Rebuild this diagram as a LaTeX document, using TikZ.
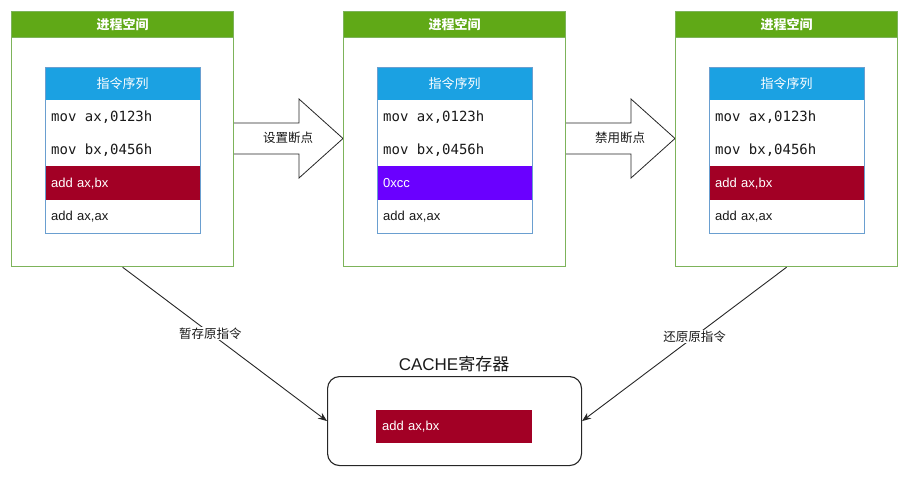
\documentclass[tikz,border=0pt]{standalone}
\usepackage{fontspec}
\setmainfont{Liberation Sans}
\newfontfamily\cjk{Noto Sans CJK SC}
\newfontfamily\monof{DejaVu Sans Mono}
\newcommand{\msp}{\hspace{0.602em}}
\usetikzlibrary{arrows.meta}
\definecolor{hdrgreen}{HTML}{60A917}
\definecolor{bordergreen}{HTML}{7DB35A}
\definecolor{hdrblue}{HTML}{1BA1E2}
\definecolor{listborder}{HTML}{6A9FD0}
\definecolor{redrow}{HTML}{A20025}
\definecolor{purprow}{HTML}{6A00FF}
\tikzset{
  procbox/.style={draw=bordergreen, line width=1.2pt, fill=white, anchor=north west,
    minimum width=222pt, minimum height=255pt, inner sep=0pt},
  prochdr/.style={draw=bordergreen, line width=1.2pt, fill=hdrgreen, anchor=north west,
    minimum width=222pt, minimum height=26pt, inner sep=0pt, text=white,
    font=\cjk\bfseries\fontsize{13}{15}\selectfont},
  listhdr/.style={fill=hdrblue, anchor=north west, minimum width=155pt, minimum height=33pt,
    inner sep=0pt, text=white, font=\cjk\fontsize{13}{15}\selectfont},
  rowbox/.style={anchor=north west, minimum height=33pt, inner xsep=6pt, inner ysep=0pt,
    text width=143pt, align=left},
  monorow/.style={rowbox, font=\monof\fontsize{14}{16}\selectfont, text=black!90},
  sansrow/.style={rowbox, font=\fontsize{13}{15}\selectfont},
  listframe/.style={draw=listborder, line width=1.2pt, anchor=north west,
    minimum width=155pt, minimum height=166pt, inner sep=0pt},
  blockarrow/.style={draw=black!85, line width=0.8pt, fill=white},
  arrowlbl/.style={font=\cjk\fontsize{12.5}{15}\selectfont, text=black!90},
  linklbl/.style={font=\cjk\fontsize{12.5}{15}\selectfont, text=black!90, fill=white, inner sep=1pt},
  link/.style={draw=black!85, line width=0.9pt, -{Stealth[length=9pt,width=7pt]}},
  cachebox/.style={draw=black!85, line width=1.1pt, rounded corners=12pt, fill=white,
    minimum width=254pt, minimum height=89pt, anchor=north west, inner sep=0pt}
}
\begin{document}
\begin{tikzpicture}[x=1pt,y=-1pt]
\useasboundingbox (0,0) rectangle (909,477);
% block arrows
\draw[blockarrow] (233,123) -- (299,123) -- (299,99) -- (343,138.5) -- (299,178) -- (299,154) -- (233,154) -- cycle;
\node[arrowlbl] (lab1) at (288,138) {设置断点};
\draw[blockarrow] (565,123) -- (631,123) -- (631,99) -- (675,138.5) -- (631,178) -- (631,154) -- (565,154) -- cycle;
\node[arrowlbl] (lab2) at (620,138) {禁用断点};
% process columns
\foreach \i/\x/\rc/\rt in {1/11/redrow/{add ax,bx},2/343/purprow/{0xcc},3/675/redrow/{add ax,bx}}{
  \node[procbox] (p\i) at (\x,11) {};
  \node[prochdr] (ph\i) at (\x,11) {进程空间};
  \node[listhdr] (lh\i) at (\x+34,67) {指令序列};
  \node[monorow] (ra\i) at (\x+34,100) {mov\msp ax,0123h};
  \node[monorow] (rb\i) at (\x+34,133) {mov\msp bx,0456h};
  \node[sansrow, fill=\rc, text=white, minimum height=34pt] (rc\i) at (\x+34,166) {\rt};
  \node[sansrow, text=black!90] (rd\i) at (\x+34,200) {add ax,ax};
  \node[listframe] (lf\i) at (\x+34,67) {};
}
% cache
\node[cachebox] (cache) at (327,376) {};
\node[font=\fontsize{17}{20}\selectfont, text=black!90] (cachet) at (454,364) {CACHE{\cjk 寄存器}};
\node[sansrow, fill=redrow, text=white, text width=144pt, inner xsep=6pt, minimum height=33pt] (cr) at (376,410) {add ax,bx};
% links
\draw[link] (p1.south) -- node[linklbl, pos=0.43] (l1) {暂存原指令} (cache.west);
\draw[link] (p3.south) -- node[linklbl, pos=0.45] (l2) {还原原指令} (cache.east);
\end{tikzpicture}
\end{document}
